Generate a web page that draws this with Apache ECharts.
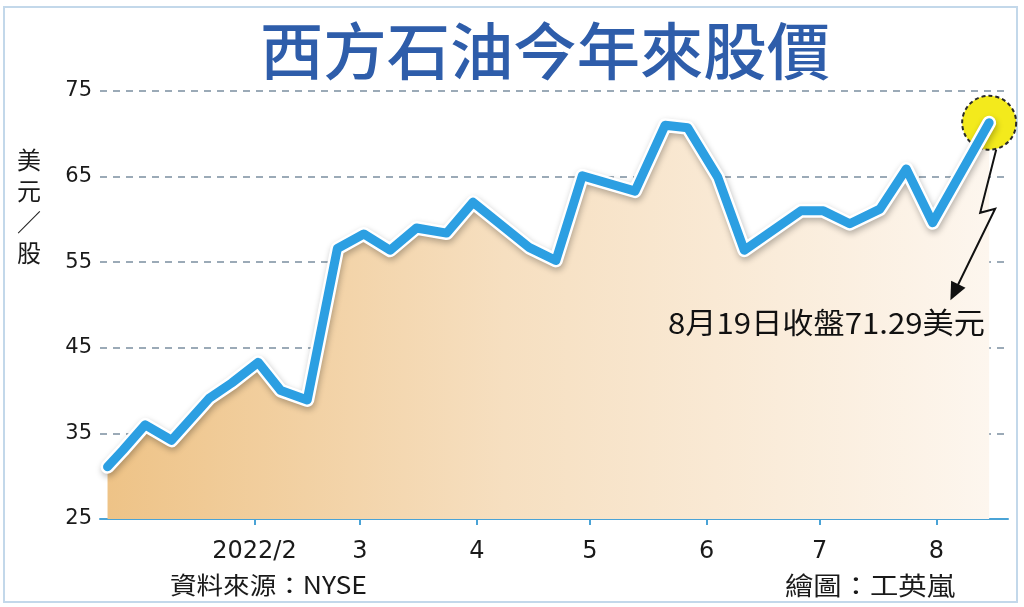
<!DOCTYPE html>
<html>
<head>
<meta charset="utf-8">
<script src="https://cdn.jsdelivr.net/npm/echarts@6/dist/echarts.min.js"></script>
<style>
html,body{margin:0;padding:0;background:#fff;}
#c{width:1024px;height:607px;}
</style>
</head>
<body>
<div id="c"></div>
<script>
// ---- data ----
const dates = ['2021-12-24','2021-12-28','2022-01-03','2022-01-10','2022-01-20','2022-01-26',
  '2022-02-02','2022-02-08','2022-02-15','2022-02-23','2022-03-02','2022-03-09','2022-03-16',
  '2022-03-24','2022-03-31','2022-04-15','2022-04-22','2022-04-29','2022-05-13','2022-05-21',
  '2022-05-27','2022-06-04','2022-06-11','2022-06-26','2022-07-02','2022-07-09','2022-07-17',
  '2022-07-24','2022-07-31','2022-08-15'];
const prices = [31.1,33.0,36.0,34.2,39.1,40.9,43.3,40.0,38.9,56.6,58.3,56.4,59.0,58.4,62.0,
  56.7,55.2,65.1,63.3,71.0,70.7,64.9,56.4,61.0,61.0,59.5,61.2,65.9,59.6,71.29];
const tickDates = ['2022-02-01','2022-03-01','2022-04-01','2022-05-01','2022-06-01','2022-07-01','2022-08-01'];
const tickLabels = ['2022/2','3','4','5','6','7','8'];
const yTicks = [25,35,45,55,65,75];
const titleText = '西方石油今年來股價';
const unitText = '美\n元\n／\n股';
const noteText = '8月19日收盤71.29美元';
const sourceText = '資料來源：NYSE';
const creditText = '繪圖：工英嵐';

const DAY = 86400000;
function toTs(s){ const p = s.split('-').map(Number); return Date.UTC(p[0], p[1]-1, p[2]); }
const tickTs = tickDates.map(toTs);
const series = dates.map((d,i)=>[toTs(d), prices[i]]);
const last = series[series.length-1];

const chart = echarts.init(document.getElementById('c'));
const numFont = '"DejaVu Sans", "Liberation Sans", sans-serif';
const cjkFont = '"Noto Sans CJK TC", "Noto Sans", sans-serif';

// text width helper for horizontal fitting of free texts
const mctx = document.createElement('canvas').getContext('2d');
function fitScale(text, size, weight, target){
  mctx.font = (weight||'normal') + ' ' + size + 'px ' + cjkFont;
  return target / mctx.measureText(text).width;
}

chart.setOption({
  animation:false,
  backgroundColor:'#ffffff',
  grid:{left:100, right:16, top:91, bottom:88},
  xAxis:{
    type:'value',
    min: toTs('2021-12-22'),
    max: toTs('2022-08-20'),
    axisLine:{show:true, lineStyle:{color:'#4aa3d6', width:2}},
    axisTick:{show:true, customValues:tickTs, length:6, lineStyle:{color:'#4aa3d6', width:2}},
    axisLabel:{customValues:tickTs, margin:21, fontSize:24, color:'#1a1a1a', fontFamily:numFont,
      formatter:function(v){
        let best = -1, bd = Infinity;
        tickTs.forEach((t,i)=>{ const d = Math.abs(t-v); if(d<bd){bd=d; best=i;} });
        return bd < DAY ? tickLabels[best] : '';
      }},
    splitLine:{show:false}
  },
  yAxis:{
    type:'value', min:yTicks[0], max:yTicks[yTicks.length-1], interval:10,
    axisLine:{show:false}, axisTick:{show:false},
    axisLabel:{fontSize:21, color:'#1a1a1a', margin:8, fontFamily:numFont},
    splitLine:{show:true, lineStyle:{color:'#7b8ea0', width:1.5, type:[7,6]}}
  },
  series:[
    {type:'line', data:series, symbol:'none', z:1, silent:true,
      lineStyle:{width:0},
      areaStyle:{opacity:1, color:new echarts.graphic.LinearGradient(0,0,1,0,[
        {offset:0,color:'#eec387'},{offset:0.45,color:'#f6dfc0'},{offset:1,color:'#fdf6ee'}])}},
    {type:'scatter', data:[last], symbolSize:54, z:2, silent:true,
      itemStyle:{color:'#f3ea1c', borderColor:'#2a2a2a', borderWidth:2, borderType:[4,3], opacity:1}},
    {type:'line', data:series, symbol:'none', z:3, silent:true,
      lineStyle:{color:'#ffffff', width:14, join:'round', cap:'round',
        shadowColor:'rgba(0,0,0,0.28)', shadowBlur:6, shadowOffsetX:1, shadowOffsetY:3}},
    {type:'line', data:series, symbol:'none', z:4, silent:true,
      lineStyle:{color:'#2c9fe2', width:9, join:'round', cap:'round'}}
  ]
});

// annotation arrow anchored to the last data point
const P = chart.convertToPixel({xAxisIndex:0, yAxisIndex:0}, last);
const pts = [[P[0]+7,P[1]+27],[P[0]-9,P[1]+90],[P[0]+6,P[1]+86],[P[0]-37,P[1]+174]];
const a = pts[2], b = pts[3];
const ang = Math.atan2(b[1]-a[1], b[0]-a[0]);
const hl = 18, hw = 8;
const tip = [b[0]+Math.cos(ang)*4, b[1]+Math.sin(ang)*4];
const base = [tip[0]-Math.cos(ang)*hl, tip[1]-Math.sin(ang)*hl];
const head = [tip,
  [base[0]+Math.sin(ang)*hw, base[1]-Math.cos(ang)*hw],
  [base[0]-Math.sin(ang)*hw, base[1]+Math.cos(ang)*hw]];

const titleSX = fitScale(titleText, 62, '500', 570);
const noteSX = fitScale(noteText, 29, 'normal', 317);
const srcSX = fitScale(sourceText, 24, 'normal', 197);
const credSX = fitScale(creditText, 25, 'normal', 170);

chart.setOption({
  graphic:[
    {type:'rect', shape:{x:4,y:7,width:1013,height:595}, style:{fill:'none', stroke:'#c3d8ea', lineWidth:2}, silent:true, z:0},
    {type:'text', x:545, y:51, scaleX:titleSX, style:{text:titleText, fontSize:62, fontWeight:'500', fill:'#2e5daa',
      fontFamily:cjkFont, align:'center', verticalAlign:'middle'}},
    {type:'text', x:29, y:206, style:{text:unitText, fontSize:24, lineHeight:31, fill:'#1a1a1a',
      fontFamily:cjkFont, align:'center', verticalAlign:'middle'}},
    {type:'polyline', shape:{points:pts}, style:{stroke:'#111', lineWidth:2, fill:'none'}, z:10},
    {type:'polygon', shape:{points:head}, style:{fill:'#111'}, z:10},
    {type:'text', x:985, y:323, scaleX:noteSX, style:{text:noteText, fontSize:29, fill:'#111',
      fontFamily:cjkFont, align:'right', verticalAlign:'middle'}, z:10},
    {type:'text', x:170, y:585, scaleX:srcSX, style:{text:sourceText, fontSize:24, fill:'#1a1a1a',
      fontFamily:cjkFont, align:'left', verticalAlign:'middle'}},
    {type:'text', x:785, y:585, scaleX:credSX, style:{text:creditText, fontSize:25, fill:'#1a1a1a',
      fontFamily:cjkFont, align:'left', verticalAlign:'middle'}}
  ]
});
</script>
</body>
</html>
